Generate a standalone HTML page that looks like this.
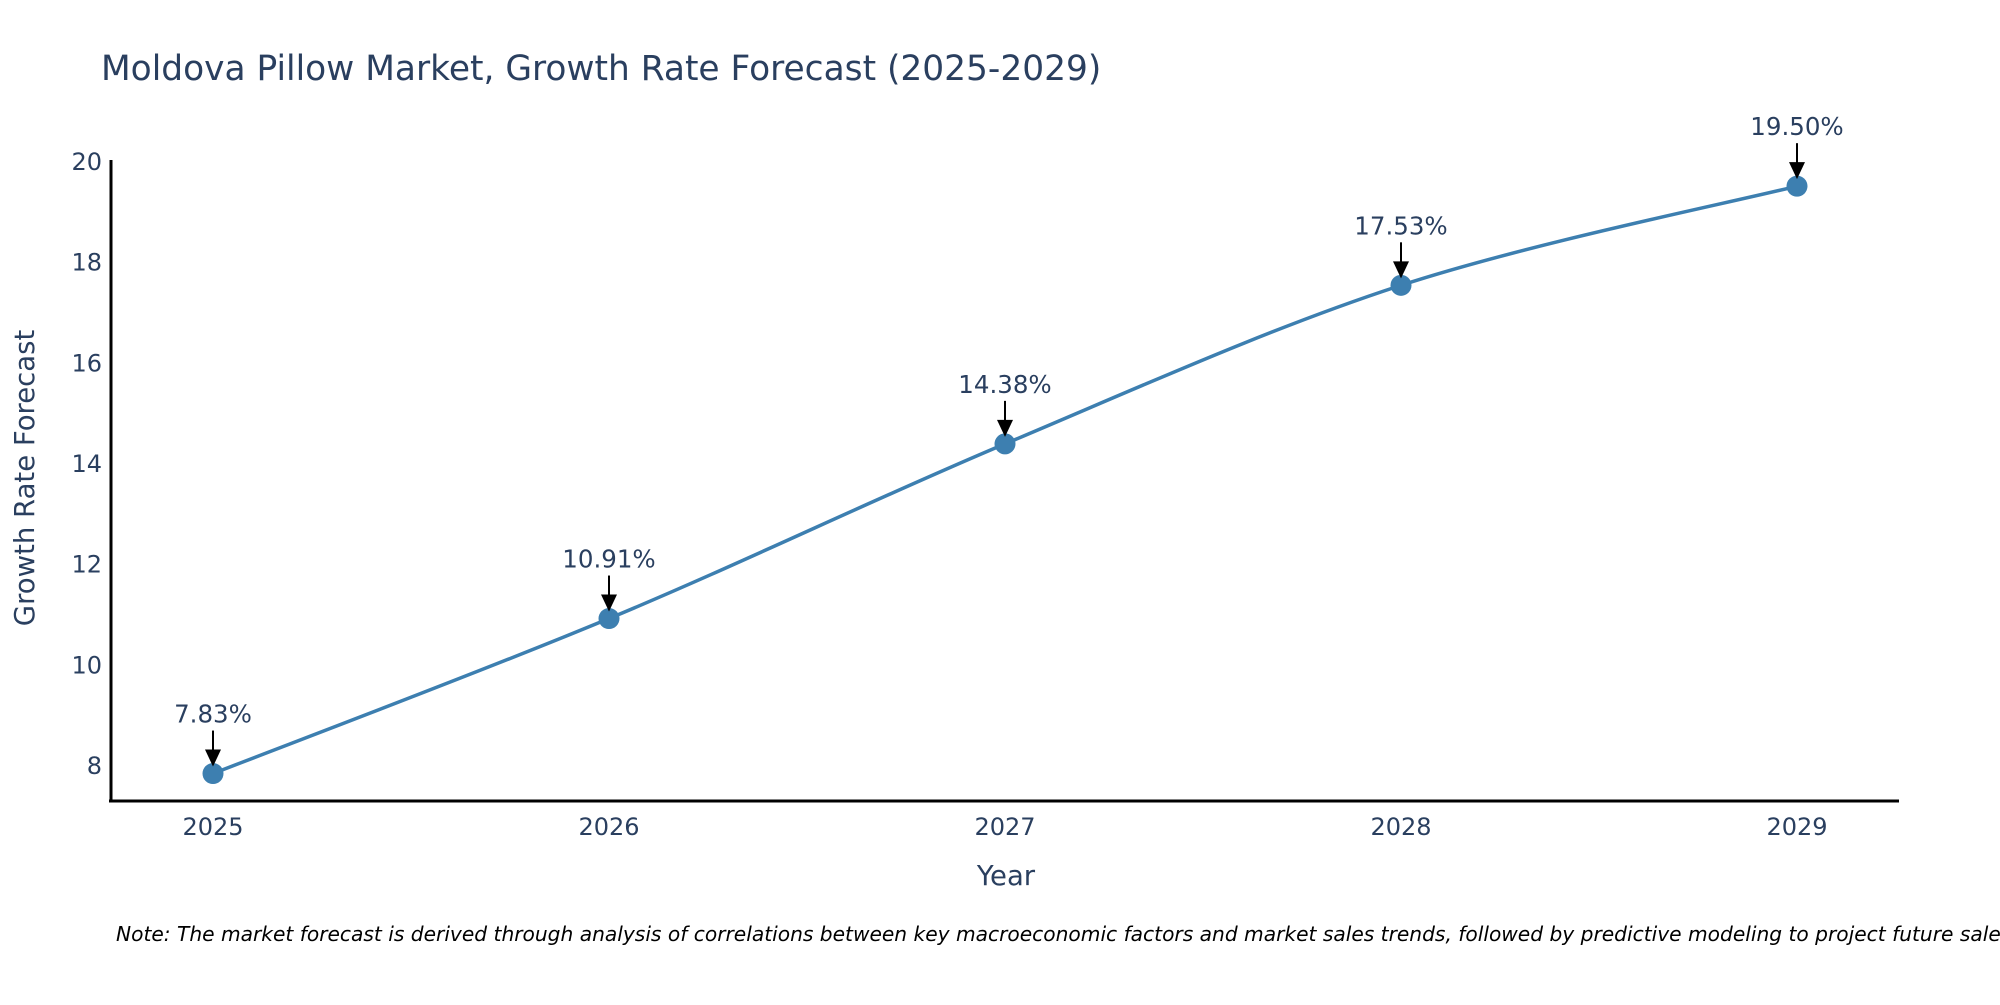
<!DOCTYPE html>
<html><head><meta charset="utf-8"><style>
body{margin:0;background:#fff;}
svg text{font-family:"DejaVu Sans","Liberation Sans",sans-serif;fill:#2a3f5f;}
</style></head><body>
<svg id="chart" width="2000" height="1000" viewBox="0 0 2000 1000" xmlns="http://www.w3.org/2000/svg">
<text x="101" y="80" font-size="34.4">Moldova Pillow Market, Growth Rate Forecast (2025-2029)</text>
<g id="yticks"></g>
<g id="xticks"></g>
<line x1="111" y1="160" x2="111" y2="802" stroke="#000" stroke-width="3"/>
<line x1="109" y1="801" x2="1899" y2="801" stroke="#000" stroke-width="3"/>
<text x="0" y="0" font-size="27.5" text-anchor="middle" transform="translate(34,478) rotate(-90)">Growth Rate Forecast</text>
<text x="1006" y="885" font-size="27.5" text-anchor="middle">Year</text>
<g id="series"></g>
<g id="annots"></g>
<text x="116" y="941" font-size="20.2" font-style="italic" style="fill:#000">Note: The market forecast is derived through analysis of correlations between key macroeconomic factors and market sales trends, followed by predictive modeling to project future sales.</text>
</svg>
<script>
const years = [2025, 2026, 2027, 2028, 2029];
const growthValues = [7.83, 10.91, 14.38, 17.53, 19.50];
const valueLabels = ["7.83%", "10.91%", "14.38%", "17.53%", "19.50%"];
const yTickValues = [8, 10, 12, 14, 16, 18, 20];

const NS = "http://www.w3.org/2000/svg";
function xScale(yr){ return 213 + (yr - 2025) * (1797 - 213) / 4; }
function yScale(v){ return 765 - (v - 8) * (765 - 161) / 12; }
function mk(tag, attrs, parent){ const e=document.createElementNS(NS,tag); for(const k in attrs) e.setAttribute(k,attrs[k]); parent.appendChild(e); return e; }

const yt = document.getElementById('yticks');
yTickValues.forEach(v=>{
  const t = mk('text',{x:102,y:yScale(v)+9,'font-size':24,'text-anchor':'end'},yt);
  
  
  t.textContent = v;
});
const xt = document.getElementById('xticks');
years.forEach(y=>{
  const t = mk('text',{x:xScale(y),y:835,'font-size':24,'text-anchor':'middle'},xt);
  
  
  t.textContent = y;
});

const pts = years.map((y,i)=>[xScale(y), yScale(growthValues[i])]);
let d = `M${pts[0][0]},${pts[0][1]}`;
for(let i=0;i<pts.length-1;i++){
  const p0=pts[Math.max(0,i-1)], p1=pts[i], p2=pts[i+1], p3=pts[Math.min(pts.length-1,i+2)];
  const s=1/3;
  const c1=[p1[0]+(p2[0]-p0[0])*s/2, p1[1]+(p2[1]-p0[1])*s/2];
  const c2=[p2[0]-(p3[0]-p1[0])*s/2, p2[1]-(p3[1]-p1[1])*s/2];
  d += ` C${c1[0]},${c1[1]} ${c2[0]},${c2[1]} ${p2[0]},${p2[1]}`;
}
const g = document.getElementById('series');
const line = mk('path',{d:d,fill:'none',stroke:'#3d7fb0','stroke-width':3.5},g);


pts.forEach((p,i)=>{
  const c = mk('circle',{cx:p[0],cy:p[1],r:10.5,fill:'#3d7fb0'},g);
  
  
});

const an = document.getElementById('annots');
pts.forEach((p,i)=>{
  const x=p[0], y=p[1];
  const l = mk('line',{x1:x,y1:y-43,x2:x,y2:y-22,stroke:'#000','stroke-width':2},an);
  
  
  const h = mk('polygon',{points:`${x-8},${y-24} ${x+8},${y-24} ${x},${y-7}`,fill:'#000'},an);
  
  
  const t = mk('text',{x:x,y:y-51,'font-size':24.5,'text-anchor':'middle'},an);
  
  
  t.textContent = valueLabels[i];
});
</script>
</body></html>
